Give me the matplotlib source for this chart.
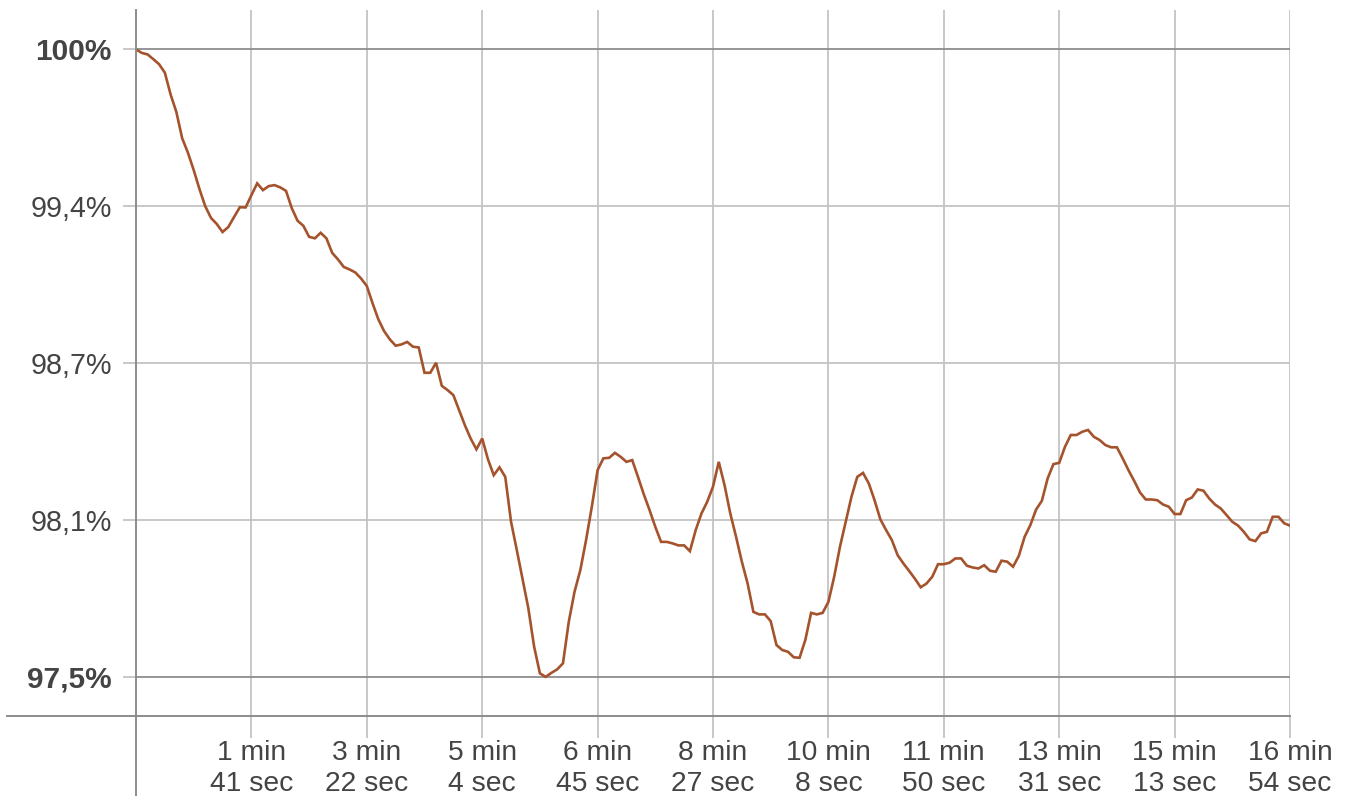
import numpy as np
import matplotlib.pyplot as plt
from matplotlib.lines import Line2D

plt.rcParams['font.family'] = ['Liberation Sans', 'DejaVu Sans']

# total duration in seconds (16 min 54 sec), samples are evenly spaced
duration = 1014
values = [
    100.0, 99.986, 99.980, 99.961, 99.941, 99.907, 99.820, 99.750, 99.646, 99.588,
    99.519, 99.443, 99.375, 99.328, 99.304, 99.272, 99.292, 99.332, 99.371, 99.370,
    99.419, 99.466, 99.439, 99.455, 99.459, 99.450, 99.436, 99.367, 99.317, 99.297,
    99.253, 99.247, 99.269, 99.247, 99.189, 99.163, 99.133, 99.123, 99.111, 99.087,
    99.057, 98.988, 98.924, 98.877, 98.844, 98.819, 98.824, 98.834, 98.815, 98.812,
    98.711, 98.711, 98.751, 98.659, 98.642, 98.622, 98.562, 98.502, 98.449, 98.406,
    98.449, 98.366, 98.303, 98.334, 98.296, 98.117, 98.004, 97.887, 97.772, 97.619,
    97.513, 97.499, 97.515, 97.529, 97.553, 97.718, 97.838, 97.924, 98.044, 98.177,
    98.323, 98.370, 98.372, 98.392, 98.376, 98.356, 98.363, 98.296, 98.227, 98.164,
    98.097, 98.037, 98.037, 98.031, 98.023, 98.023, 98.000, 98.084, 98.150, 98.197,
    98.257, 98.356, 98.263, 98.150, 98.057, 97.958, 97.871, 97.758, 97.748, 97.748,
    97.721, 97.626, 97.606, 97.599, 97.577, 97.575, 97.646, 97.754, 97.748, 97.754,
    97.798, 97.898, 98.017, 98.117, 98.217, 98.296, 98.312, 98.270, 98.203, 98.127,
    98.084, 98.044, 97.984, 97.951, 97.921, 97.890, 97.856, 97.871, 97.898, 97.948,
    97.948, 97.954, 97.971, 97.971, 97.942, 97.935, 97.931, 97.944, 97.922, 97.918,
    97.962, 97.958, 97.938, 97.981, 98.057, 98.104, 98.166, 98.201, 98.290, 98.347,
    98.352, 98.416, 98.463, 98.463, 98.476, 98.483, 98.456, 98.443, 98.423, 98.414,
    98.414, 98.370, 98.323, 98.280, 98.234, 98.206, 98.206, 98.203, 98.186, 98.177,
    98.148, 98.148, 98.203, 98.214, 98.246, 98.241, 98.210, 98.186, 98.170, 98.144,
    98.117, 98.102, 98.077, 98.047, 98.040, 98.071, 98.077, 98.137, 98.137, 98.111,
    98.102,
]
times = np.linspace(0, duration, len(values))

x_ticks = [101.4, 202.8, 304.2, 405.6, 507.0, 608.4, 709.8, 811.2, 912.6, 1014]
x_labels = ['1 min\n41 sec', '3 min\n22 sec', '5 min\n4 sec', '6 min\n45 sec',
            '8 min\n27 sec', '10 min\n8 sec', '11 min\n50 sec', '13 min\n31 sec',
            '15 min\n13 sec', '16 min\n54 sec']
y_ticks = [97.5, 98.125, 98.75, 99.375, 100.0]
y_labels = ['97,5%', '98,1%', '98,7%', '99,4%', '100%']

W, H = 1349, 796
fig = plt.figure(figsize=(W / 100, H / 100), dpi=100)
ax = fig.add_axes([136 / W, 1 - 716 / H, (1290 - 136) / W, (716 - 10) / H])

ax.plot(times, values, color='#a4532c', linewidth=1.9, solid_joinstyle='miter', zorder=3)

ax.set_xlim(0, duration)
ax.set_ylim(97.343, 100.157)

for s in ax.spines.values():
    s.set_visible(False)

light = '#c4c4c4'
dark = '#8c8c8c'

ax.set_xticks(x_ticks)
ax.set_xticklabels(x_labels, fontsize=20.3, color='#444444', linespacing=1.25)
ax.tick_params(axis='x', length=16, width=1.3, color=light, pad=1.5)
for t in x_ticks:
    ax.axvline(t, color=light, linewidth=1.3, zorder=1)

ax.set_yticks(y_ticks)
ax.set_yticklabels(y_labels, fontsize=20.6, color='#444444')
ax.tick_params(axis='y', length=9.5, width=1.3, color=light, pad=8)
for t, lab in zip(y_ticks, ax.get_yticklabels()):
    c = dark if t in (97.5, 100.0) else light
    ax.axhline(t, color=c, linewidth=1.3, zorder=1)
    if t in (97.5, 100.0):
        lab.set_fontweight('bold')
        lab.set_fontsize(21.5)
for t, tk in zip(y_ticks, ax.yaxis.get_major_ticks()):
    if t in (97.5, 100.0):
        tk.tick1line.set_color(dark)

# axis lines reaching past the plot area
fig.add_artist(Line2D([136 / W, 136 / W], [0, 1 - 10 / H], color=dark, linewidth=1.4))
fig.add_artist(Line2D([7 / W, 1290 / W], [1 - 716 / H, 1 - 716 / H], color=dark, linewidth=1.4))

plt.savefig('out.png', dpi=100)
